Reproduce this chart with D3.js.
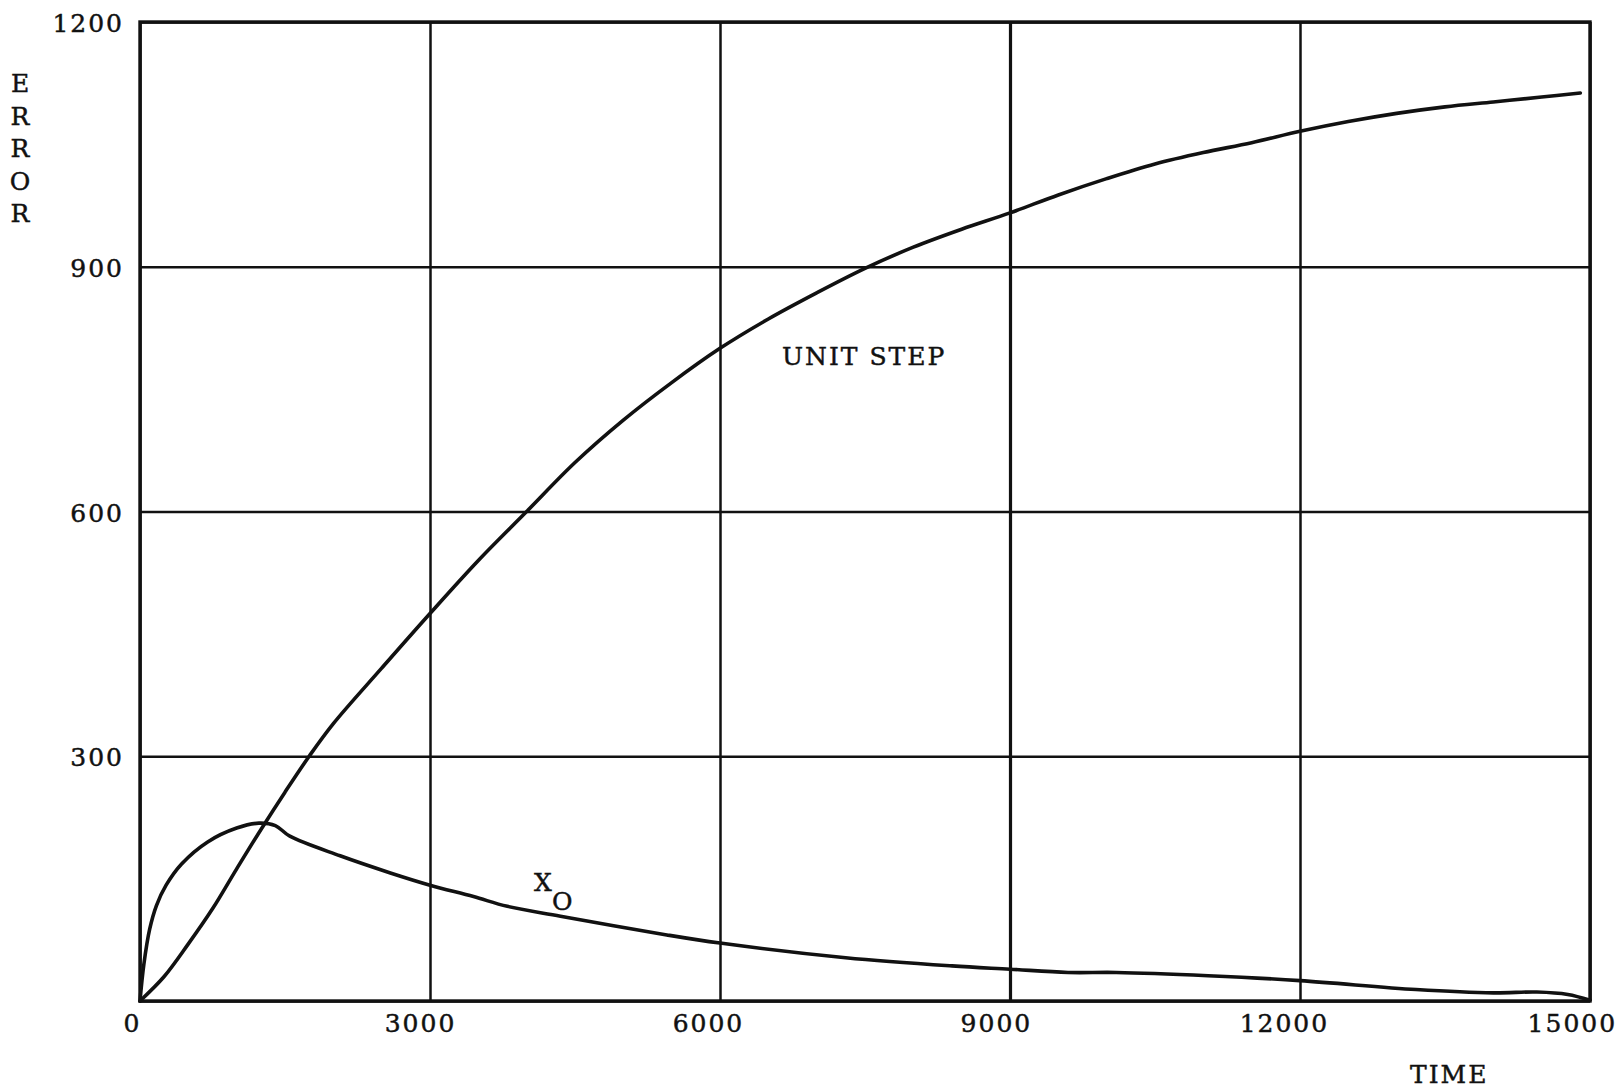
<!DOCTYPE html>
<html>
<head>
<meta charset="utf-8">
<script src="https://cdn.jsdelivr.net/npm/d3@7"></script>
<style>
  html, body { margin: 0; padding: 0; background: #fff; }
  svg { display: block; }
  text { font-family: "DejaVu Serif", "Liberation Serif", serif; fill: #111; stroke: #111; stroke-width: 0.45px; letter-spacing: 2px; }
</style>
</head>
<body>
<svg id="chart" width="1623" height="1090"></svg>
<script>
// Error versus time for two inputs
const timeTicks = [0, 3000, 6000, 9000, 12000, 15000];
const errorTicks = [0, 300, 600, 900, 1200];

const unitStepTime  = [0, 250, 500, 750, 1000, 1250, 1500, 1750, 2000, 2500, 3000, 3500, 4000, 4500, 5000, 5500, 6000, 6500, 7000, 7500, 8000, 8500, 9000, 9500, 10000, 10500, 11000, 11500, 12000, 12500, 13000, 13500, 14000, 14500, 14900];
const unitStepError = [0, 30, 70, 113, 162, 210, 256, 300, 340, 408, 475, 540, 600, 660, 712, 758, 800, 836, 868, 898, 924, 946, 966, 988, 1008, 1026, 1040, 1052, 1066, 1078, 1088, 1096, 1102, 1108, 1113];

const x0Time  = [0, 40, 100, 170, 270, 430, 700, 1000, 1230, 1400, 1550, 2070, 2590, 3000, 3450, 3800, 4350, 5450, 6000, 7300, 8400, 9000, 9600, 10100, 11050, 12000, 13200, 14000, 14450, 14770, 15000];
const x0Error = [0, 45, 88, 117, 142, 168, 195, 212, 218, 215, 202, 178, 157, 142, 128, 116, 104, 81, 71, 53, 43, 39, 35, 35, 31, 25, 14, 10, 11, 8, 1];

const svg = d3.select("#chart");
const plotLeft = 140, plotRight = 1590, plotTop = 22, plotBottom = 1001;
const fontSize = 25;

const x = d3.scaleLinear().domain([0, 15000]).range([plotLeft, plotRight]);
const y = d3.scaleLinear().domain([0, 1200]).range([plotBottom, plotTop]);

// grid + tick labels
const yAxis = d3.axisLeft(y).tickValues(errorTicks).tickFormat(d3.format("d"))
  .tickSizeInner(-(plotRight - plotLeft)).tickSizeOuter(0).tickPadding(16);
const gy = svg.append("g").attr("transform", `translate(${plotLeft},0)`).call(yAxis);
gy.select(".domain").remove();
gy.selectAll(".tick line").attr("stroke", "#111").attr("stroke-width", 2.5);
gy.selectAll(".tick text").attr("font-size", fontSize).attr("dy", "0.38em");
gy.selectAll(".tick").filter(d => d === 0).select("text").remove();

const xAxis = d3.axisBottom(x).tickValues(timeTicks).tickFormat(d3.format("d"))
  .tickSizeInner(-(plotBottom - plotTop)).tickSizeOuter(0).tickPadding(13);
const gx = svg.append("g").attr("transform", `translate(0,${plotBottom})`).call(xAxis);
gx.select(".domain").remove();
gx.selectAll(".tick line").attr("stroke", "#111").attr("stroke-width", d => d === 9000 ? 3.2 : 2.5);
gx.selectAll(".tick text").attr("font-size", fontSize).attr("dx", d => -8 - (x(d) - plotLeft) * 0.007);

// frame
svg.append("rect")
  .attr("x", plotLeft).attr("y", plotTop)
  .attr("width", plotRight - plotLeft).attr("height", plotBottom - plotTop)
  .attr("fill", "none").attr("stroke", "#111").attr("stroke-width", 3.4);

// curves
const line = d3.line().x(d => x(d[0])).y(d => y(d[1])).curve(d3.curveCatmullRom.alpha(0.5));
const unitStep = unitStepTime.map((t, i) => [t, unitStepError[i]]);
const x0 = x0Time.map((t, i) => [t, x0Error[i]]);

svg.append("path").datum(unitStep).attr("d", line)
  .attr("fill", "none").attr("stroke", "#111").attr("stroke-width", 3.6)
  .attr("stroke-linejoin", "round").attr("stroke-linecap", "round");
svg.append("path").datum(x0).attr("d", line)
  .attr("fill", "none").attr("stroke", "#111").attr("stroke-width", 3.6)
  .attr("stroke-linejoin", "round").attr("stroke-linecap", "round");

// labels
svg.append("text").attr("x", 782).attr("y", 365).attr("font-size", fontSize).attr("letter-spacing", 3).text("UNIT STEP");
svg.append("text").attr("x", 534).attr("y", 891).attr("font-size", fontSize).text("X");
svg.append("text").attr("x", 552).attr("y", 910).attr("font-size", fontSize).text("O");
svg.append("text").attr("x", 1410).attr("y", 1083).attr("font-size", fontSize).attr("letter-spacing", 3).text("TIME");

const errorLetters = ["E", "R", "R", "O", "R"];
svg.append("g").selectAll("text").data(errorLetters).join("text")
  .attr("x", 21).attr("y", (d, i) => 92 + i * 32.5)
  .attr("text-anchor", "middle").attr("letter-spacing", 0)
  .attr("font-size", fontSize).text(d => d);
</script>
</body>
</html>
